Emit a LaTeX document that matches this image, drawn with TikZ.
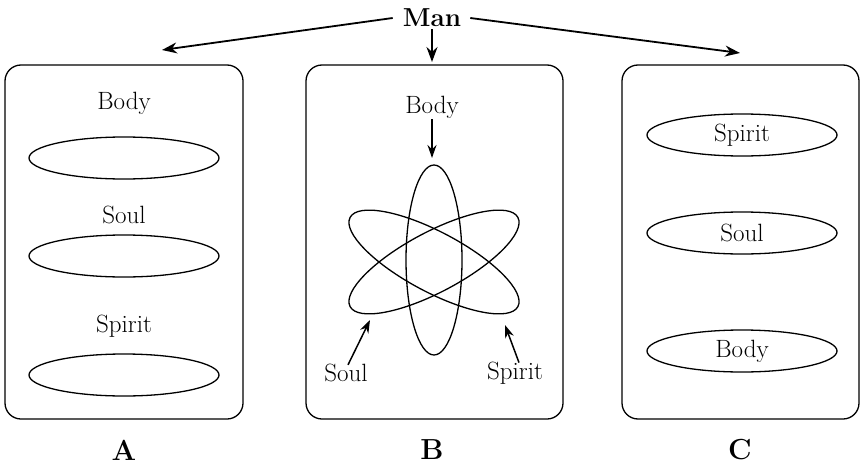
\documentclass[tikz,border=0pt]{standalone}
\usetikzlibrary{shapes.geometric,arrows.meta}
\tikzset{
  box/.style={draw,line width=1.3pt,rounded corners=16pt,inner sep=0pt},
  ring/.style={draw,ellipse,line width=1.3pt,minimum width=190pt,minimum height=42pt,inner sep=0pt,font=\fontsize{25}{27}\selectfont},
  lab/.style={font=\fontsize{25}{27}\selectfont,inner sep=1pt},
  big/.style={font=\fontsize{29}{31}\selectfont\bfseries},
  arr/.style={line width=1.8pt,-{Stealth[length=15pt,width=11pt]}},
  sarr/.style={line width=1.5pt,-{Stealth[length=13pt,width=9pt]}}
}
\begin{document}
\begin{tikzpicture}[x=1pt,y=-1pt]
\useasboundingbox (0,0) rectangle (861,468);
% Man
\node[inner sep=0pt,minimum height=22pt,font=\fontsize{26}{28}\selectfont\bfseries] (man) at (432,18) {Man};
\coordinate (tA) at (162,50);
\coordinate (tB) at (432,62);
\coordinate (tC) at (740,53);
\draw[arr] ([xshift=-10pt]man.west) -- (tA);
\draw[arr] (man.south) -- (tB);
\draw[arr] ([xshift=9pt]man.east) -- (tC);
% boxes
\node[box,minimum width=238pt,minimum height=354pt] (boxA) at (124,242) {};
\node[box,minimum width=257pt,minimum height=354pt] (boxB) at (434.5,242) {};
\node[box,minimum width=237pt,minimum height=354pt] (boxC) at (740.5,242) {};
% box A
\node[lab] (aBody) at (124,103) {Body};
\node[ring] (aR1) at (124,158) {};
\node[lab] (aSoul) at (124,215) {Soul};
\node[ring] (aR2) at (124,256) {};
\node[lab] (aSpirit) at (124,326) {Spirit};
\node[ring] (aR3) at (124,375) {};
% box B
\node[lab] (bBody) at (432,107) {Body};
\coordinate (bBodyTip) at (432,158);
\draw[sarr] (bBody.south) -- (bBodyTip);
\draw[line width=1.3pt] (434,260) ellipse [x radius=28, y radius=95];
\draw[line width=1.3pt,rotate around={28:(434,262)}] (434,262) ellipse [x radius=95, y radius=30];
\draw[line width=1.3pt,rotate around={-28:(434,262)}] (434,262) ellipse [x radius=95, y radius=30];
\node[lab] (bSoul) at (346,373) {Soul};
\node[lab] (bSpirit) at (515,373) {Spirit};
\coordinate (soulTip) at (370,320);
\coordinate (spiritTip) at (505,325);
\draw[sarr] (bSoul.north) ++(2pt,-2pt) -- (soulTip);
\draw[sarr] (bSpirit.north) ++(4pt,-2pt) -- (spiritTip);
% box C
\node[ring] (cSpirit) at (742,135) {Spirit};
\node[ring] (cSoul) at (742,233) {Soul};
\node[ring] (cBody) at (742,351) {Body};
% labels
\node[big] (labA) at (124,450) {A};
\node[big] (labB) at (432,450) {B};
\node[big] (labC) at (740,450) {C};
\end{tikzpicture}
\end{document}
